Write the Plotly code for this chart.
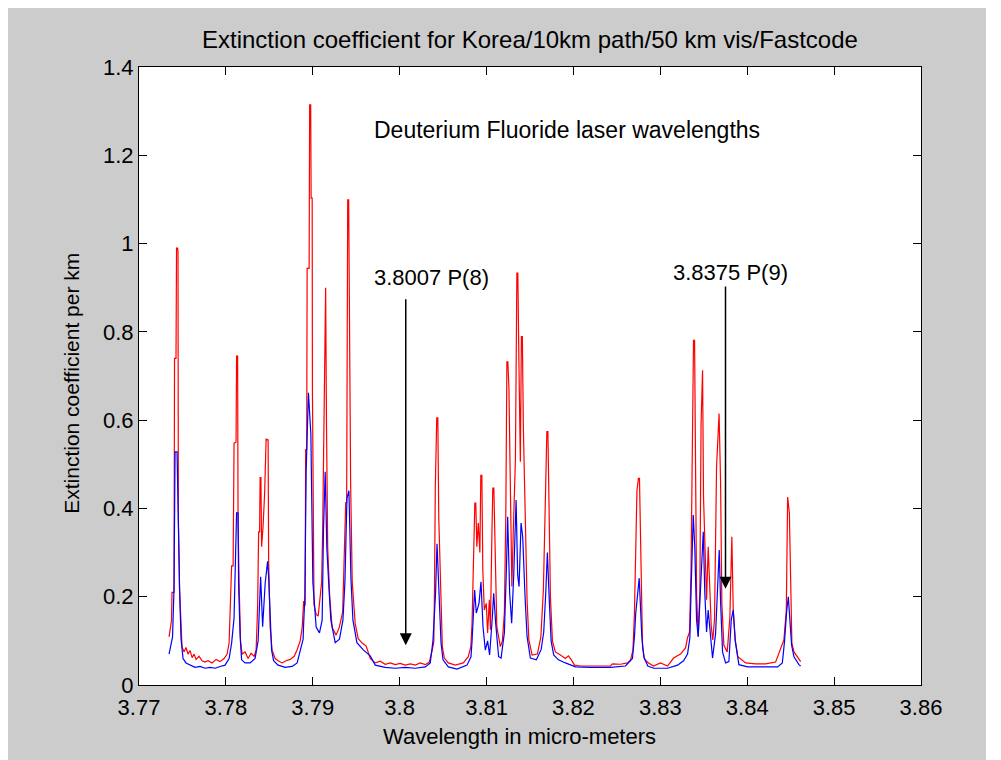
import plotly.graph_objects as go

# wavelength (micro-meters) and extinction coefficient per km
red_wl = [
    3.77346, 3.77363, 3.77374, 3.77380, 3.77403, 3.77409, 3.77426, 3.77432, 3.77444, 3.77449,
    3.77453, 3.77467, 3.77484, 3.77495, 3.77518, 3.77541, 3.77564, 3.77588, 3.77611, 3.77634,
    3.77657, 3.77691, 3.77726, 3.77760, 3.77795, 3.77841, 3.77887, 3.77933, 3.77979, 3.78014,
    3.78037, 3.78066, 3.78083, 3.78094, 3.78117, 3.78123, 3.78135, 3.78140, 3.78152, 3.78169,
    3.78187, 3.78221, 3.78256, 3.78290, 3.78325, 3.78348, 3.78365, 3.78377, 3.78388, 3.78394,
    3.78403, 3.78411, 3.78428, 3.78446, 3.78463, 3.78486, 3.78492, 3.78509, 3.78532, 3.78567,
    3.78601, 3.78647, 3.78693, 3.78740, 3.78786, 3.78820, 3.78855, 3.78878, 3.78895, 3.78912,
    3.78918, 3.78930, 3.78935, 3.78958, 3.78964, 3.78976, 3.78981, 3.78993, 3.78996, 3.79004,
    3.79014, 3.79039, 3.79062, 3.79085, 3.79102, 3.79114, 3.79131, 3.79148, 3.79158, 3.79172,
    3.79195, 3.79223, 3.79269, 3.79304, 3.79344, 3.79362, 3.79379, 3.79390, 3.79402, 3.79413,
    3.79419, 3.79436, 3.79454, 3.79488, 3.79523, 3.79569, 3.79615, 3.79661, 3.79719, 3.79776,
    3.79834, 3.79892, 3.79949, 3.80007, 3.80064, 3.80122, 3.80180, 3.80237, 3.80295, 3.80341,
    3.80375, 3.80393, 3.80401, 3.80410, 3.80427, 3.80439, 3.80450, 3.80473, 3.80491, 3.80514,
    3.80560, 3.80640, 3.80732, 3.80790, 3.80819, 3.80833, 3.80848, 3.80865, 3.80876, 3.80888,
    3.80905, 3.80923, 3.80934, 3.80946, 3.80957, 3.80974, 3.80997, 3.81012, 3.81032, 3.81044,
    3.81061, 3.81072, 3.81084, 3.81095, 3.81118, 3.81159, 3.81182, 3.81205, 3.81222, 3.81234,
    3.81245, 3.81257, 3.81274, 3.81291, 3.81308, 3.81332, 3.81349, 3.81360, 3.81372, 3.81389,
    3.81401, 3.81412, 3.81424, 3.81447, 3.81466, 3.81487, 3.81524, 3.81585, 3.81625, 3.81654,
    3.81677, 3.81694, 3.81706, 3.81717, 3.81735, 3.81758, 3.81792, 3.81850, 3.81908, 3.81942,
    3.81977, 3.82011, 3.82080, 3.82253, 3.82426, 3.82449, 3.82541, 3.82622, 3.82656, 3.82685,
    3.82702, 3.82731, 3.82748, 3.82760, 3.82772, 3.82795, 3.82818, 3.82864, 3.82921, 3.83002,
    3.83083, 3.83152, 3.83232, 3.83290, 3.83313, 3.83336, 3.83353, 3.83365, 3.83382, 3.83394,
    3.83402, 3.83417, 3.83436, 3.83455, 3.83469, 3.83486, 3.83497, 3.83512, 3.83532, 3.83551,
    3.83566, 3.83586, 3.83604, 3.83624, 3.83647, 3.83676, 3.83693, 3.83708, 3.83731, 3.83770,
    3.83800, 3.83823, 3.83839, 3.83862, 3.83892, 3.83981, 3.84096, 3.84212, 3.84327, 3.84422,
    3.84450, 3.84465, 3.84485, 3.84500, 3.84514, 3.84538, 3.84577, 3.84615,
]
red_ext = [
    0.109, 0.140, 0.146, 0.210, 0.210, 0.740, 0.740, 0.990, 0.990, 0.980,
    0.380, 0.215, 0.118, 0.087, 0.075, 0.085, 0.070, 0.078, 0.062, 0.070,
    0.058, 0.065, 0.055, 0.052, 0.055, 0.050, 0.058, 0.053, 0.060, 0.070,
    0.095, 0.270, 0.270, 0.548, 0.550, 0.745, 0.745, 0.374, 0.230, 0.098,
    0.070, 0.075, 0.060, 0.072, 0.065, 0.080, 0.174, 0.347, 0.347, 0.470,
    0.470, 0.313, 0.360, 0.435, 0.557, 0.555, 0.283, 0.132, 0.079, 0.060,
    0.055, 0.050, 0.055, 0.058, 0.065, 0.080, 0.100, 0.130, 0.190, 0.180,
    0.533, 0.533, 0.944, 0.944, 1.314, 1.314, 1.103, 1.103, 0.670, 0.464,
    0.182, 0.160, 0.156, 0.200, 0.233, 0.353, 0.670, 0.900, 0.585, 0.310,
    0.200, 0.130, 0.113, 0.130, 0.165, 0.310, 0.413, 0.413, 1.099, 1.099,
    0.843, 0.452, 0.233, 0.139, 0.105, 0.095, 0.088, 0.060, 0.050, 0.054,
    0.047, 0.050, 0.046, 0.049, 0.045, 0.048, 0.045, 0.050, 0.046, 0.052,
    0.079, 0.098, 0.220, 0.446, 0.605, 0.605, 0.378, 0.189, 0.087, 0.061,
    0.050, 0.045, 0.050, 0.064, 0.087, 0.140, 0.272, 0.412, 0.412, 0.313,
    0.367, 0.300, 0.475, 0.475, 0.260, 0.170, 0.185, 0.118, 0.193, 0.125,
    0.336, 0.446, 0.446, 0.313, 0.132, 0.087, 0.100, 0.163, 0.390, 0.732,
    0.732, 0.676, 0.472, 0.223, 0.351, 0.510, 0.933, 0.933, 0.736, 0.506,
    0.789, 0.789, 0.578, 0.344, 0.193, 0.102, 0.068, 0.070, 0.109, 0.215,
    0.426, 0.574, 0.574, 0.374, 0.200, 0.100, 0.075, 0.068, 0.060, 0.066,
    0.057, 0.045, 0.043, 0.043, 0.043, 0.048, 0.047, 0.050, 0.056, 0.079,
    0.163, 0.441, 0.468, 0.468, 0.340, 0.087, 0.058, 0.050, 0.043, 0.050,
    0.043, 0.061, 0.070, 0.084, 0.107, 0.120, 0.260, 0.566, 0.781, 0.781,
    0.540, 0.208, 0.109, 0.215, 0.593, 0.713, 0.426, 0.310, 0.193, 0.313,
    0.230, 0.132, 0.102, 0.150, 0.494, 0.615, 0.464, 0.185, 0.090, 0.075,
    0.152, 0.336, 0.170, 0.102, 0.064, 0.050, 0.048, 0.048, 0.052, 0.102,
    0.170, 0.426, 0.390, 0.268, 0.095, 0.075, 0.064, 0.053,
]

blue_wl = [
    3.77346, 3.77369, 3.77386, 3.77403, 3.77415, 3.77438, 3.77449, 3.77467, 3.77484, 3.77507,
    3.77541, 3.77588, 3.77645, 3.77703, 3.77760, 3.77818, 3.77876, 3.77933, 3.77991, 3.78037,
    3.78066, 3.78094, 3.78123, 3.78140, 3.78146, 3.78164, 3.78181, 3.78221, 3.78279, 3.78336,
    3.78371, 3.78400, 3.78423, 3.78452, 3.78480, 3.78492, 3.78509, 3.78526, 3.78549, 3.78601,
    3.78682, 3.78763, 3.78820, 3.78855, 3.78889, 3.78893, 3.78909, 3.78924, 3.78950, 3.78978,
    3.78990, 3.79001, 3.79039, 3.79077, 3.79108, 3.79123, 3.79143, 3.79162, 3.79185, 3.79208,
    3.79258, 3.79307, 3.79347, 3.79370, 3.79393, 3.79416, 3.79439, 3.79462, 3.79508, 3.79584,
    3.79661, 3.79719, 3.79834, 3.79949, 3.80064, 3.80180, 3.80295, 3.80352, 3.80383, 3.80413,
    3.80430, 3.80453, 3.80476, 3.80499, 3.80560, 3.80660, 3.80775, 3.80821, 3.80833, 3.80863,
    3.80882, 3.80913, 3.80936, 3.80959, 3.80986, 3.81012, 3.81035, 3.81067, 3.81082, 3.81105,
    3.81139, 3.81167, 3.81205, 3.81228, 3.81243, 3.81266, 3.81289, 3.81312, 3.81340, 3.81358,
    3.81374, 3.81397, 3.81416, 3.81443, 3.81466, 3.81504, 3.81573, 3.81628, 3.81658, 3.81681,
    3.81700, 3.81720, 3.81743, 3.81773, 3.81827, 3.81908, 3.82023, 3.82196, 3.82426, 3.82599,
    3.82679, 3.82702, 3.82717, 3.82757, 3.82772, 3.82787, 3.82810, 3.82856, 3.82925, 3.83083,
    3.83198, 3.83267, 3.83313, 3.83340, 3.83356, 3.83379, 3.83397, 3.83417, 3.83436, 3.83455,
    3.83474, 3.83494, 3.83512, 3.83532, 3.83551, 3.83578, 3.83601, 3.83636, 3.83662, 3.83678,
    3.83693, 3.83716, 3.83751, 3.83789, 3.83816, 3.83839, 3.83862, 3.83904, 3.84004, 3.84350,
    3.84404, 3.84430, 3.84453, 3.84473, 3.84491, 3.84511, 3.84538, 3.84595, 3.84615,
]
blue_ext = [
    0.070, 0.090, 0.109, 0.220, 0.528, 0.528, 0.367, 0.215, 0.104, 0.060,
    0.050, 0.045, 0.040, 0.042, 0.038, 0.040, 0.038, 0.042, 0.045, 0.060,
    0.095, 0.152, 0.390, 0.390, 0.230, 0.110, 0.057, 0.050, 0.050, 0.060,
    0.100, 0.245, 0.132, 0.230, 0.280, 0.245, 0.155, 0.079, 0.055, 0.045,
    0.040, 0.042, 0.050, 0.075, 0.104, 0.130, 0.200, 0.487, 0.662, 0.568,
    0.362, 0.233, 0.131, 0.118, 0.147, 0.350, 0.483, 0.310, 0.224, 0.147,
    0.096, 0.104, 0.147, 0.233, 0.422, 0.440, 0.242, 0.147, 0.096, 0.079,
    0.066, 0.045, 0.040, 0.038, 0.040, 0.038, 0.041, 0.050, 0.100, 0.208,
    0.320, 0.193, 0.095, 0.057, 0.041, 0.036, 0.045, 0.064, 0.100, 0.215,
    0.163, 0.185, 0.234, 0.132, 0.079, 0.100, 0.068, 0.155, 0.208, 0.140,
    0.064, 0.061, 0.118, 0.260, 0.381, 0.208, 0.140, 0.245, 0.419, 0.250,
    0.223, 0.367, 0.336, 0.200, 0.110, 0.061, 0.057, 0.080, 0.120, 0.208,
    0.300, 0.200, 0.100, 0.068, 0.057, 0.050, 0.041, 0.040, 0.040, 0.043,
    0.060, 0.109, 0.163, 0.242, 0.180, 0.109, 0.064, 0.043, 0.038, 0.038,
    0.045, 0.055, 0.070, 0.107, 0.230, 0.385, 0.310, 0.147, 0.110, 0.200,
    0.270, 0.347, 0.208, 0.120, 0.170, 0.110, 0.061, 0.117, 0.245, 0.306,
    0.190, 0.075, 0.050, 0.053, 0.147, 0.170, 0.100, 0.046, 0.041, 0.041,
    0.050, 0.100, 0.165, 0.200, 0.147, 0.090, 0.064, 0.046, 0.043,
]

# DF laser lines: wavelength, label, arrow tip height, arrow tail height, label position
laser_wl = [3.8007, 3.8375]
laser_names = ["3.8007 P(8)", "3.8375 P(9)"]
laser_tip = [0.09, 0.218]
laser_tail = [0.877, 0.906]
laser_label_y = [0.923, 0.935]
laser_label_x = [3.79684, 3.83117]

FONT = "Liberation Sans, Arial, sans-serif"
GREY = "#cccccc"

fig = go.Figure()
fig.add_trace(go.Scatter(x=red_wl, y=red_ext, mode="lines",
                         line=dict(color="#ff0000", width=1.2), showlegend=False))
fig.add_trace(go.Scatter(x=blue_wl, y=blue_ext, mode="lines",
                         line=dict(color="#0000ff", width=1.2), showlegend=False))

annotations = []
for wl, name, tip, tail, ly, lx in zip(laser_wl, laser_names, laser_tip,
                                        laser_tail, laser_label_y, laser_label_x):
    annotations.append(dict(
        x=wl, y=tip, ax=wl, ay=tail, xref="x", yref="y", axref="x", ayref="y",
        text="", showarrow=True, arrowhead=2, arrowsize=1.6, arrowwidth=1.5,
        arrowcolor="black",
    ))
    annotations.append(dict(
        x=lx, y=ly, xref="x", yref="y", text=name, showarrow=False,
        xanchor="left", yanchor="middle", font=dict(size=22, color="black"),
    ))

annotations.append(dict(
    x=3.79684, y=1.258, xref="x", yref="y", text="Deuterium Fluoride laser wavelengths",
    showarrow=False, xanchor="left", yanchor="middle", font=dict(size=23, color="black"),
))
# title and axis labels
annotations.append(dict(
    x=0.5, y=1.0437, xref="paper", yref="paper",
    text="Extinction coefficient for Korea/10km path/50 km vis/Fastcode",
    showarrow=False, xanchor="center", yanchor="middle", font=dict(size=24, color="black"),
))
annotations.append(dict(
    x=0.486, y=-0.083, xref="paper", yref="paper", text="Wavelength in micro-meters",
    showarrow=False, xanchor="center", yanchor="middle", font=dict(size=22, color="black"),
))
annotations.append(dict(
    x=-0.0857, y=0.489, xref="paper", yref="paper", text="Extinction coefficient per km",
    showarrow=False, textangle=-90, xanchor="center", yanchor="middle",
    font=dict(size=21, color="black"),
))

# thin white strip at the right edge of the grey figure window
shapes = [
    dict(type="rect", xref="paper", yref="paper", x0=1.0831, x1=1.2, y0=-0.2, y1=1.2,
         fillcolor="white", line=dict(width=0), layer="above"),
]

# the page body adds an 8px offset, so the figure is 8px smaller than the window
fig.update_layout(
    width=993, height=752,
    margin=dict(l=131, r=80, t=59, b=75),
    paper_bgcolor=GREY, plot_bgcolor="white",
    font=dict(family=FONT, size=22, color="black"),
    annotations=annotations, shapes=shapes,
    showlegend=False,
)
axis_style = dict(showgrid=False, zeroline=False, showline=True, linecolor="black",
                  linewidth=1, ticks="inside", ticklen=8, tickcolor="black",
                  mirror="ticks", tickfont=dict(family=FONT, size=22, color="black"))
fig.update_xaxes(range=[3.77, 3.86], dtick=0.01, tick0=3.77, ticklabelstandoff=3,
                 **axis_style)
fig.update_yaxes(range=[0, 1.4], dtick=0.2, tick0=0, **axis_style)

fig.write_html("out.html")
